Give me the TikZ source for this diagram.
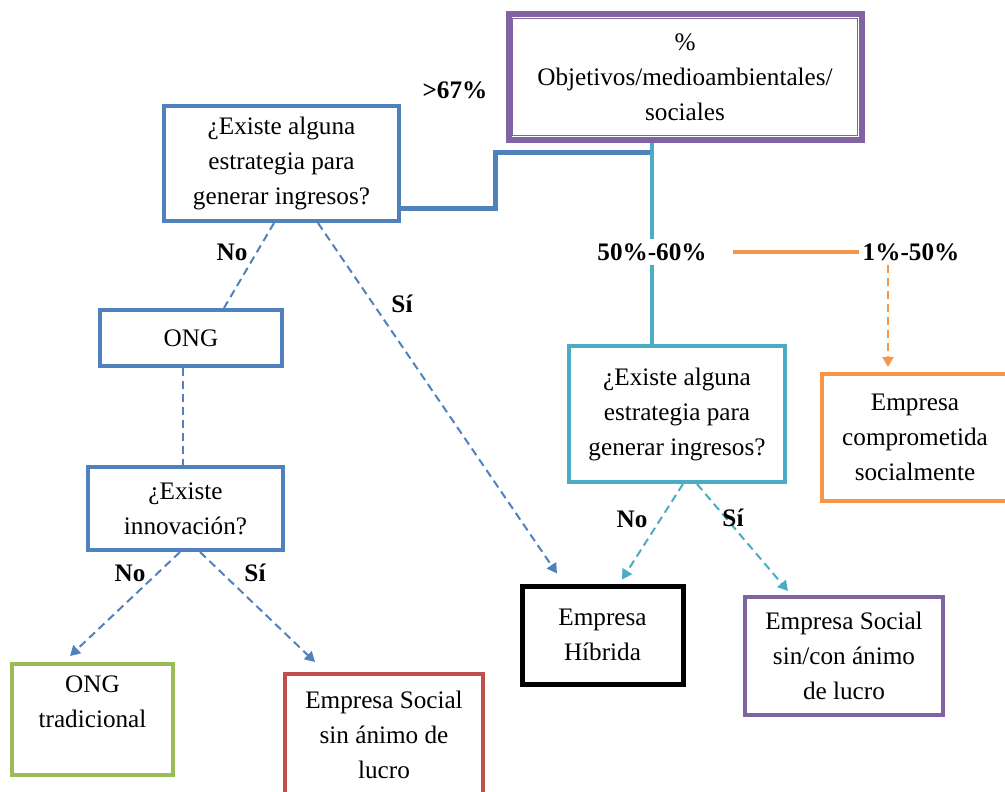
\documentclass[tikz,border=0pt]{standalone}
\usepackage{fontspec}
\setmainfont{Liberation Serif}
\usepackage{tikz}
\usetikzlibrary{arrows.meta,calc}
\definecolor{ongblue}{HTML}{4F81BD}
\definecolor{mixcyan}{HTML}{4BACC6}
\definecolor{rsorange}{HTML}{F79646}
\definecolor{tradgreen}{HTML}{9BBB59}
\definecolor{esred}{HTML}{C0504D}
\definecolor{objviolet}{HTML}{8064A2}

\begin{document}
\begin{tikzpicture}[x=1pt, y=-1pt,
  every node/.style={font=\fontsize{25.2}{35}\selectfont, align=center, inner sep=0pt},
  box/.style={draw=#1, line width=4pt},
  lbl/.style={font=\fontsize{25.2}{35}\selectfont\bfseries, inner sep=4pt},
  dashlink/.style={line width=2pt, dash pattern=on 8pt off 5pt},
  arr/.style={-{Triangle[length=10pt,width=11pt]}}]
  \path[use as bounding box] (0,0) rectangle (1005,792);
  \clip (0,0) rectangle (1005,792);

  % top: share of social / environmental aims
  \node[box=objviolet, line width=6pt, minimum width=353pt, minimum height=125pt]
    (top) at (685, 77) {\%\\Objetivos/medioambientales/\\sociales};
  \draw[objviolet, line width=1.2pt] ([shift={(7,-7)}]top.south west) rectangle ([shift={(-7,7)}]top.north east);

  \node[box=ongblue, minimum width=235pt, minimum height=115pt]
    (q1) at (281.5, 163.5) {¿Existe alguna\\estrategia para\\generar ingresos?};
  \node[lbl] (lbl67) at (455, 90) {>67\%};
  \node[lbl] (lbl5060) at (652, 252) {50\%-60\%};
  \node[lbl] (lbl150) at (911, 252) {1\%-50\%};

  \node[box=mixcyan, minimum width=216pt, minimum height=136pt]
    (q2) at (677, 414) {¿Existe alguna\\estrategia para\\generar ingresos?};
  \node[box=rsorange, minimum width=186pt, minimum height=127pt]
    (comp) at (915, 437.5) {Empresa\\comprometida\\socialmente};

  \node[box=ongblue, minimum width=182pt, minimum height=56pt] (ong) at (191, 338) {ONG};
  \node[box=ongblue, minimum width=195pt, minimum height=83pt]
    (innov) at (185.5, 508.5) {¿Existe\\innovación?};

  \node[box=tradgreen, minimum width=161pt, minimum height=111pt]
    (trad) at (92.5, 719.5) {ONG\\tradicional\\\mbox{}};
  \node[box=esred, minimum width=198pt, minimum height=122pt]
    (esl) at (384, 735) {Empresa Social\\sin ánimo de\\lucro};
  \node[box=black, line width=5pt, minimum width=161pt, minimum height=98pt]
    (hib) at (602.5, 635) {Empresa\\Híbrida};
  \node[box=objviolet, minimum width=198pt, minimum height=118pt]
    (esmix) at (844, 656) {Empresa Social\\sin/con ánimo\\de lucro};

  % branches from the top box
  \draw[ongblue, line width=5pt] ([shift={(0,45)}]q1.east) -- ++(94,0) |- ([shift={(-33,10)}]top.south);
  \draw[mixcyan, line width=4pt] ([shift={(-33,0)}]top.south) -- (lbl5060.north);
  \draw[mixcyan, line width=4pt] (lbl5060.south) -- ([shift={(-25,0)}]q2.north);
  \draw[rsorange, line width=4pt] ([shift={(22,0)}]lbl5060.east) -- (lbl150.west);
  \draw[rsorange, dashlink, arr] ([shift={(-23,0)}]lbl150.south) -- ([shift={(-27,-5)}]comp.north);

  % left side
  \draw[ongblue, dashlink] ([shift={(-7.5,0)}]q1.south) -- ([shift={(33,0)}]ong.north);
  \node[lbl] (q1no) at (232, 252) {No};
  \draw[ongblue, dashlink, arr] ([shift={(36.5,0)}]q1.south) -- ([shift={(-45.5,-10)}]hib.north);
  \node[lbl] (q1si) at (402, 304) {Sí};
  \draw[ongblue, dashlink] ([shift={(-8,0)}]ong.south) -- ([shift={(-2.5,0)}]innov.north);
  \draw[ongblue, dashlink, arr] ([shift={(-5.5,0)}]innov.south) -- ([shift={(-22.5,-6)}]trad.north);
  \node[lbl] (inno) at (130, 573) {No};
  \draw[ongblue, dashlink, arr] ([shift={(14.5,0)}]innov.south) -- ([shift={(-69,-10)}]esl.north);
  \node[lbl] (insi) at (255, 573) {Sí};

  % right side
  \draw[mixcyan, dashlink, arr] ([shift={(6,0)}]q2.south) -- ([shift={(19.5,-4)}]hib.north);
  \node[lbl] (q2no) at (632, 519) {No};
  \draw[mixcyan, dashlink, arr] ([shift={(20,0)}]q2.south) -- ([shift={(-56,-4)}]esmix.north);
  \node[lbl] (q2si) at (733, 518) {Sí};
\end{tikzpicture}
\end{document}
